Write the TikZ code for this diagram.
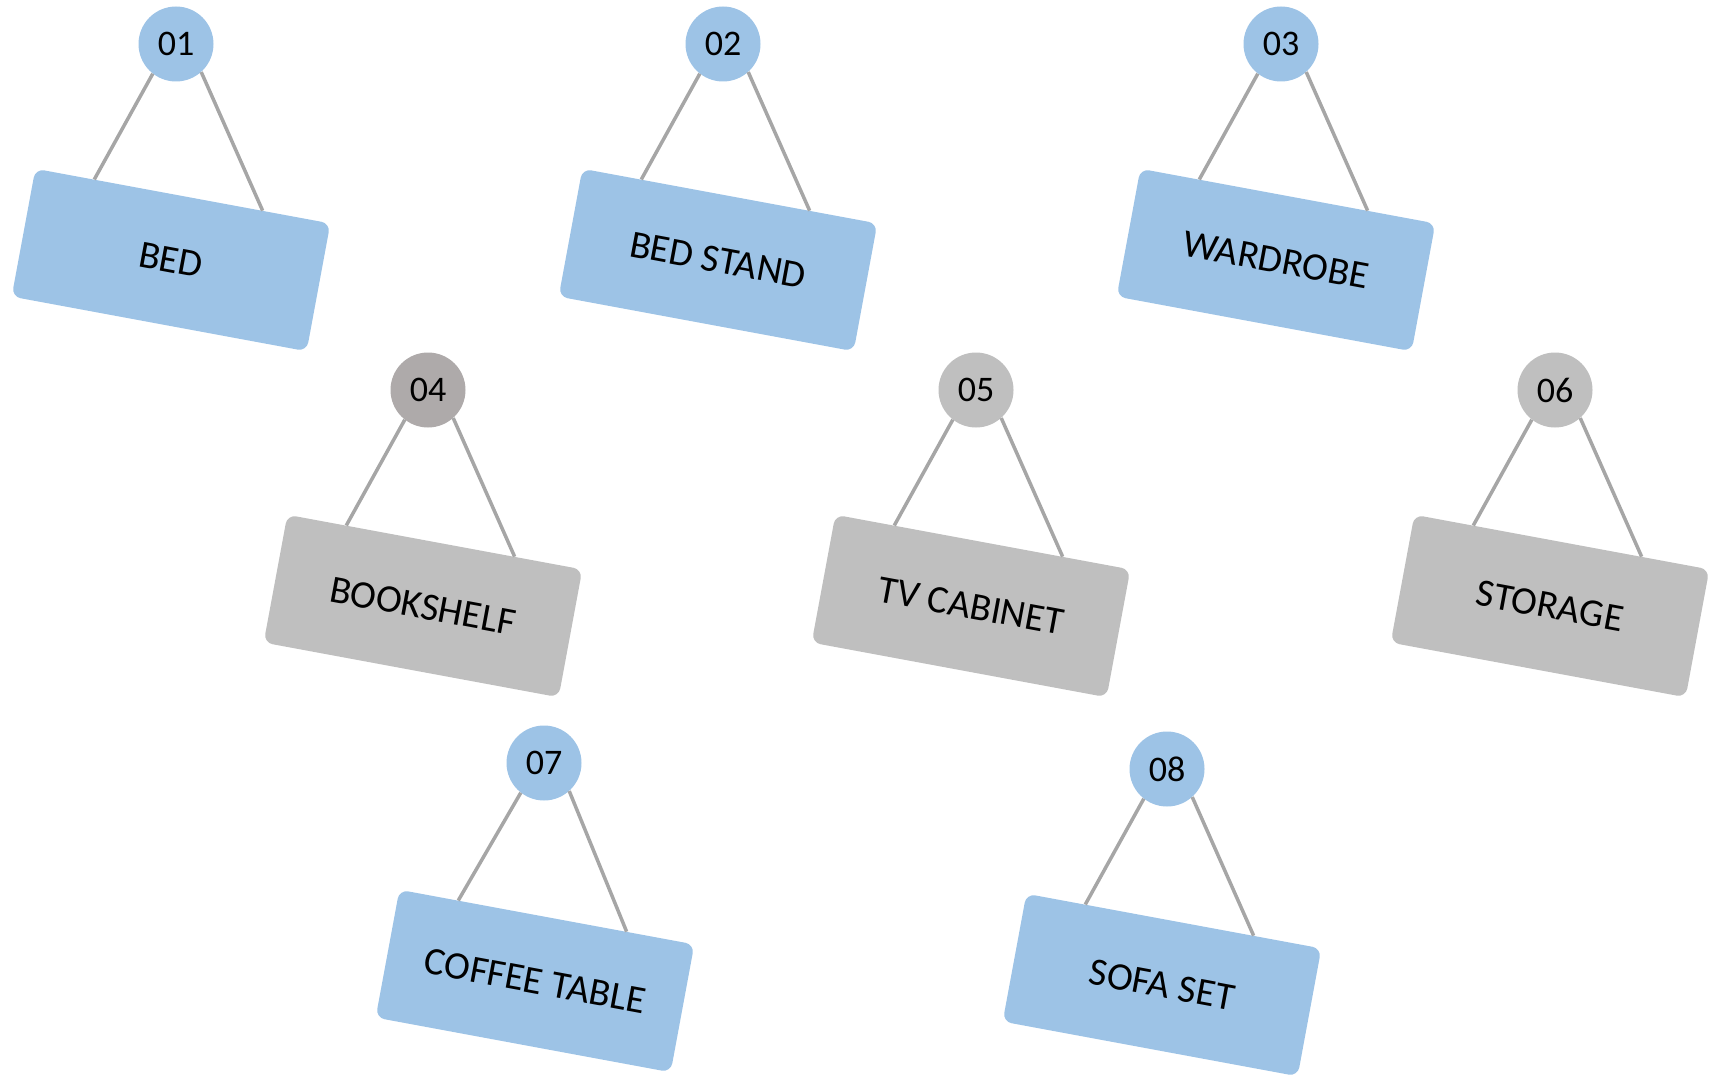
\documentclass[tikz,border=0pt]{standalone}
\usepackage{fontspec}
\setmainfont{Carlito}
\usepackage{tikz}
\usetikzlibrary{calc}
\usetikzlibrary{positioning}
\definecolor{signblue}{HTML}{9DC3E6}
\definecolor{signgray}{HTML}{BFBFBF}
\definecolor{darkdot}{HTML}{AEAAAA}
\definecolor{cord}{HTML}{A6A6A6}
\tikzstyle{num} = [circle,minimum size=75pt,inner sep=0pt,font=\fontsize{36}{40}\selectfont]
\tikzstyle{board} = [rectangle,rounded corners=9pt,minimum width=300pt,minimum height=130pt,inner sep=0pt,rotate=-10.5,font=\fontsize{39}{43}\selectfont]
\tikzstyle{hanger} = [cord,line width=3.5pt]

\begin{document}
\begin{tikzpicture}[x=1pt,y=-1pt]
	\useasboundingbox (0,0) rectangle (1715,1075);
	% top row
	\node[num,fill=signblue] (n1) at (176,44) {01};
	\node[num,fill=signblue] (n2) at (723,44) {02};
	\node[num,fill=signblue] (n3) at (1281,44) {03};
	\node[board,fill=signblue] (b1) at ([shift={(-5,216)}]n1) {BED};
	\node[board,fill=signblue] (b2) at ([shift={(-5,216)}]n2) {BED STAND};
	\node[board,fill=signblue] (b3) at ([shift={(-5,216)}]n3) {WARDROBE};
	% middle row
	\node[num,fill=darkdot] (n4) at (428,390) {04};
	\node[num,fill=signgray] (n5) at (976,390) {05};
	\node[num,fill=signgray] (n6) at (1555,390) {06};
	\node[board,fill=signgray] (b4) at ([shift={(-5,216)}]n4) {BOOKSHELF};
	\node[board,fill=signgray] (b5) at ([shift={(-5,216)}]n5) {TV CABINET};
	\node[board,fill=signgray] (b6) at ([shift={(-5,216)}]n6) {STORAGE};
	% bottom row
	\node[num,fill=signblue] (n7) at (544,763) {07};
	\node[num,fill=signblue] (n8) at (1167,769) {08};
	\node[board,fill=signblue] (b7) at ([shift={(-9,218)}]n7) {COFFEE TABLE};
	\node[board,fill=signblue] (b8) at ([shift={(-5,216)}]n8) {SOFA SET};
	% strings
	\draw[hanger] (n1.-128) -- ($(b1.north west)!0.2!(b1.north east)$);
	\draw[hanger] (n1.-48) -- ($(b1.north west)!0.77!(b1.north east)$);
	\draw[hanger] (n2.-128) -- ($(b2.north west)!0.2!(b2.north east)$);
	\draw[hanger] (n2.-48) -- ($(b2.north west)!0.77!(b2.north east)$);
	\draw[hanger] (n3.-128) -- ($(b3.north west)!0.2!(b3.north east)$);
	\draw[hanger] (n3.-48) -- ($(b3.north west)!0.77!(b3.north east)$);
	\draw[hanger] (n4.-128) -- ($(b4.north west)!0.2!(b4.north east)$);
	\draw[hanger] (n4.-48) -- ($(b4.north west)!0.77!(b4.north east)$);
	\draw[hanger] (n5.-128) -- ($(b5.north west)!0.2!(b5.north east)$);
	\draw[hanger] (n5.-48) -- ($(b5.north west)!0.77!(b5.north east)$);
	\draw[hanger] (n6.-128) -- ($(b6.north west)!0.2!(b6.north east)$);
	\draw[hanger] (n6.-48) -- ($(b6.north west)!0.77!(b6.north east)$);
	\draw[hanger] (n7.-128) -- ($(b7.north west)!0.2!(b7.north east)$);
	\draw[hanger] (n7.-48) -- ($(b7.north west)!0.77!(b7.north east)$);
	\draw[hanger] (n8.-128) -- ($(b8.north west)!0.2!(b8.north east)$);
	\draw[hanger] (n8.-48) -- ($(b8.north west)!0.77!(b8.north east)$);
\end{tikzpicture}
\end{document}
